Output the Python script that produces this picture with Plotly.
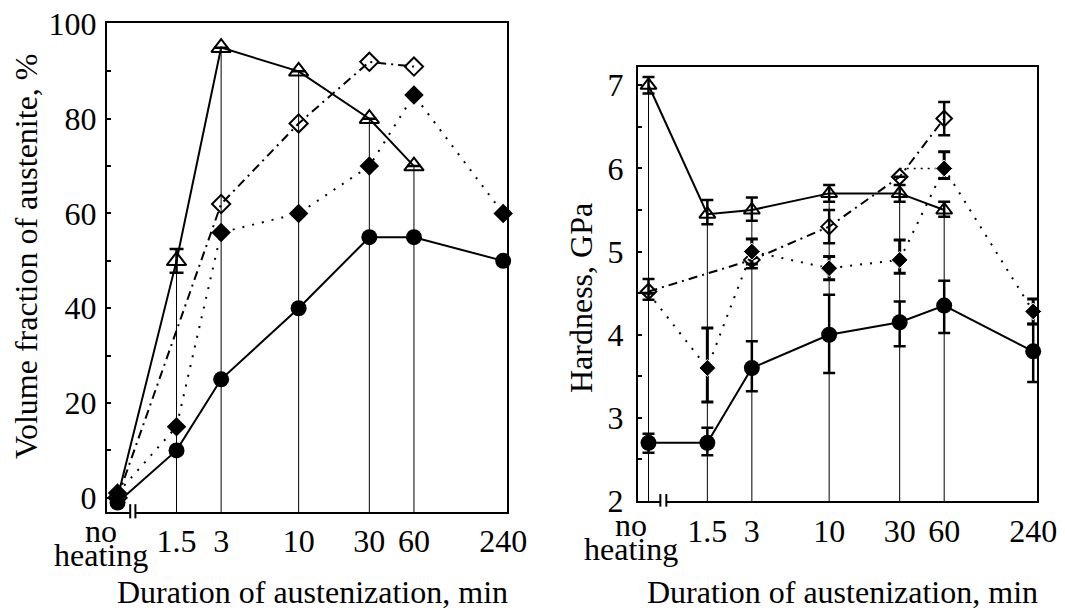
import plotly.graph_objects as go

# ---------------- data ----------------
NH = 0.6  # plotting position of the "no heating" state on the log time axis
durations = [NH, 1.5, 3, 10, 30, 60, 240]
x_tickvals = [1.5, 3, 10, 30, 60, 240]
x_ticktext = ["1.5", "3", "10", "30", "60", "240"]

# Left panel: volume fraction of austenite, %
vf_triangle = [0, 50, 95, 90, 80, 70, None]
vf_triangle_err = [0, 2.5, 0, 0, 0, 0, 0]
vf_open_diamond = [0, None, 62, 79, 92, 91, None]
vf_filled_diamond = [1, 15, 56, 60, 70, 85, 60]
vf_circle = [-1, 10, 25, 40, 55, 55, 50]

# Right panel: hardness, GPa
hv_triangle = [7.0, 5.45, 5.5, 5.7, 5.7, 5.5, None]
hv_triangle_ep = [0.1, 0.17, 0.15, 0.1, 0.1, 0.1, 0]
hv_triangle_em = [0.1, 0.12, 0.13, 0.1, 0.1, 0.08, 0]
hv_open_diamond = [4.52, None, 4.9, 5.3, 5.9, 6.6, None]
hv_open_diamond_ep = [0.15, 0, 0.1, 0.2, 0, 0.2, 0]
hv_open_diamond_em = [0.1, 0, 0.1, 0.2, 0, 0.2, 0]
hv_filled_diamond = [4.5, 3.6, 5.0, 4.8, 4.9, 6.0, 4.28]
hv_filled_diamond_ep = [0, 0.48, 0.15, 0.14, 0.24, 0.2, 0.15]
hv_filled_diamond_em = [0, 0.41, 0.15, 0.14, 0.16, 0.12, 0.15]
hv_circle = [2.7, 2.7, 3.6, 4.0, 4.15, 4.35, 3.8]
hv_circle_ep = [0.11, 0.18, 0.32, 0.48, 0.25, 0.3, 0.33]
hv_circle_em = [0.12, 0.15, 0.28, 0.46, 0.29, 0.33, 0.37]
hv_extra_x = [30, 60]
hv_extra_y = [6.0, 6.0]

LEFT_YMIN, LEFT_YMAX = -3, 100.2
RIGHT_YMIN, RIGHT_YMAX = 2, 7.22
XRANGE = [-0.293, 2.406]

FONT = "Liberation Serif, Times New Roman, serif"
W, H = 1065, 610


def fx(px):
    return px / W


def fy(py):
    return 1 - py / H


fig = go.Figure()


def drop_lines(yvals, ymin, skip_nh):
    xs, ys = [], []
    for xv, yv in zip(durations, yvals):
        if yv is None or (skip_nh and xv == NH):
            continue
        xs += [xv, xv, None]
        ys += [ymin, yv, None]
    return xs, ys


def err(ep, em, thick=2.5, width=6):
    return dict(type="data", symmetric=False, array=ep, arrayminus=em,
                color="black", thickness=thick, width=width)


# ---------------- left panel ----------------
dx, dy = drop_lines(vf_triangle, LEFT_YMIN, True)
fig.add_trace(go.Scatter(x=dx, y=dy, mode="lines", line=dict(color="black", width=1),
                         xaxis="x", yaxis="y", showlegend=False, hoverinfo="skip"))
fig.add_trace(go.Scatter(x=durations, y=vf_open_diamond, mode="lines+markers", connectgaps=True,
                         line=dict(color="black", width=2, dash="9px,5px,2px,5px"),
                         marker=dict(symbol="diamond-open", size=14, color="black", opacity=1,
                                     line=dict(width=2, color="black")),
                         xaxis="x", yaxis="y", showlegend=False, cliponaxis=False))
fig.add_trace(go.Scatter(x=durations, y=vf_filled_diamond, mode="lines+markers",
                         line=dict(color="black", width=2, dash="2px,8px"),
                         marker=dict(symbol="diamond", size=15, color="black", opacity=1),
                         xaxis="x", yaxis="y", showlegend=False, cliponaxis=False))
fig.add_trace(go.Scatter(x=durations, y=vf_triangle, mode="lines+markers",
                         line=dict(color="black", width=2),
                         marker=dict(symbol="triangle-up-open", size=[0, 17, 17, 17, 17, 17, 0],
                                     color="black", opacity=1, line=dict(width=2, color="black")),
                         error_y=err(vf_triangle_err, vf_triangle_err, 2.5, 7),
                         xaxis="x", yaxis="y", showlegend=False, cliponaxis=False))
fig.add_trace(go.Scatter(x=durations, y=vf_circle, mode="lines+markers",
                         line=dict(color="black", width=2),
                         marker=dict(symbol="circle", size=16, color="black", opacity=1),
                         xaxis="x", yaxis="y", showlegend=False, cliponaxis=False))

# ---------------- right panel ----------------
dx, dy = drop_lines(hv_triangle, RIGHT_YMIN, False)
fig.add_trace(go.Scatter(x=dx, y=dy, mode="lines", line=dict(color="black", width=1),
                         xaxis="x2", yaxis="y2", showlegend=False, hoverinfo="skip"))
fig.add_trace(go.Scatter(x=hv_extra_x, y=hv_extra_y, mode="lines",
                         line=dict(color="black", width=1.5, dash="2px,5px"),
                         xaxis="x2", yaxis="y2", showlegend=False))
fig.add_trace(go.Scatter(x=durations, y=hv_open_diamond, mode="lines+markers", connectgaps=True,
                         line=dict(color="black", width=2, dash="9px,5px,2px,5px"),
                         marker=dict(symbol="diamond-open", size=12, color="black", opacity=1,
                                     line=dict(width=2, color="black")),
                         error_y=err(hv_open_diamond_ep, hv_open_diamond_em),
                         xaxis="x2", yaxis="y2", showlegend=False, cliponaxis=False))
fig.add_trace(go.Scatter(x=durations, y=hv_filled_diamond, mode="lines+markers",
                         line=dict(color="black", width=2, dash="2px,8px"),
                         marker=dict(symbol="diamond", size=[0, 13, 13, 13, 13, 13, 13], color="black",
                                     opacity=1),
                         error_y=err(hv_filled_diamond_ep, hv_filled_diamond_em, 3),
                         xaxis="x2", yaxis="y2", showlegend=False, cliponaxis=False))
fig.add_trace(go.Scatter(x=durations, y=hv_triangle, mode="lines+markers",
                         line=dict(color="black", width=2),
                         marker=dict(symbol="triangle-up-open", size=14, color="black", opacity=1,
                                     line=dict(width=2, color="black")),
                         error_y=err(hv_triangle_ep, hv_triangle_em),
                         xaxis="x2", yaxis="y2", showlegend=False, cliponaxis=False))
fig.add_trace(go.Scatter(x=durations, y=hv_circle, mode="lines+markers",
                         line=dict(color="black", width=2),
                         marker=dict(symbol="circle", size=16, color="black", opacity=1),
                         error_y=err(hv_circle_ep, hv_circle_em),
                         xaxis="x2", yaxis="y2", showlegend=False, cliponaxis=False))

# ---------------- axes ----------------
xcommon = dict(type="log", range=XRANGE, showline=True, mirror=True, linewidth=2, linecolor="black",
               ticks="", tickvals=x_tickvals, ticktext=x_ticktext, showgrid=False, zeroline=False,
               tickfont=dict(family=FONT, size=32, color="black"), automargin=False,
               ticklabeloverflow="allow")
ycommon = dict(showline=True, mirror=True, linewidth=2, linecolor="black", showgrid=False, zeroline=False,
               ticks="inside", ticklen=4, tickwidth=1.5, tickcolor="black", tick0=0,
               tickfont=dict(family=FONT, size=32, color="black"), automargin=False,
               ticklabeloverflow="allow")
fig.update_layout(
    width=W, height=H, margin=dict(l=0, r=0, t=0, b=0),
    paper_bgcolor="white", plot_bgcolor="white",
    font=dict(family=FONT, color="black"),
    xaxis=dict(domain=[fx(107), fx(507)], anchor="y", ticklabelstandoff=0, **xcommon),
    xaxis2=dict(domain=[fx(638), fx(1037)], anchor="y2", ticklabelstandoff=1, **xcommon),
    yaxis=dict(domain=[fy(512), fy(23)], range=[LEFT_YMIN, LEFT_YMAX], anchor="x", dtick=20,
               minor=dict(ticks="inside", ticklen=4, tickwidth=1.5, tickcolor="black", dtick=10, showgrid=False),
               ticklabelstandoff=2, **ycommon),
    yaxis2=dict(domain=[fy(501), fy(67)], range=[RIGHT_YMIN, RIGHT_YMAX], anchor="x2", dtick=1,
                minor=dict(ticks="inside", ticklen=4, tickwidth=1.5, tickcolor="black", dtick=0.5, showgrid=False),
                ticklabelstandoff=6, **ycommon),
)

# ---------------- text ----------------
ann = []
tf = dict(family=FONT, size=32, color="black")
for cx, y_no, y_heat in [(101, 531, 555), (631, 525, 549)]:
    ann.append(dict(text="no", x=fx(cx), y=fy(y_no), xref="paper", yref="paper",
                    xanchor="center", yanchor="middle", showarrow=False, font=tf))
    ann.append(dict(text="heating", x=fx(cx), y=fy(y_heat), xref="paper", yref="paper",
                    xanchor="center", yanchor="middle", showarrow=False, font=tf))
ann.append(dict(text="Duration of austenization, min", x=fx(312), y=fy(592), xref="paper", yref="paper",
                xanchor="center", yanchor="middle", showarrow=False, font=tf))
ann.append(dict(text="Duration of austenization, min", x=fx(842), y=fy(592), xref="paper", yref="paper",
                xanchor="center", yanchor="middle", showarrow=False, font=tf))
ann.append(dict(text="Volume fraction of austenite, %", x=fx(26), y=fy(256), xref="paper", yref="paper",
                xanchor="center", yanchor="middle", textangle=-90, showarrow=False, font=tf))
ann.append(dict(text="Hardness, GPa", x=fx(581), y=fy(298), xref="paper", yref="paper",
                xanchor="center", yanchor="middle", textangle=-90, showarrow=False, font=tf))
fig.update_layout(annotations=ann)

# axis-break marks "||"
shapes = []
for xr, yr, fxx in [("x domain", "y domain", [0.058, 0.071]), ("x2 domain", "y2 domain", [0.056, 0.071])]:
    shapes.append(dict(type="rect", xref=xr, yref=yr, x0=fxx[0], x1=fxx[1], y0=-0.006, y1=0.006,
                       fillcolor="white", line=dict(width=0)))
    for f in fxx:
        shapes.append(dict(type="line", xref=xr, yref=yr, x0=f, x1=f, y0=-0.013, y1=0.016,
                           line=dict(color="black", width=2)))
fig.update_layout(shapes=shapes)

# remove the default 8px page margin so the figure fills the 1065x610 window exactly
fig.write_html("out.html", config={"displayModeBar": False},
               post_script="document.body.style.margin='0px';document.body.style.overflow='hidden';")
